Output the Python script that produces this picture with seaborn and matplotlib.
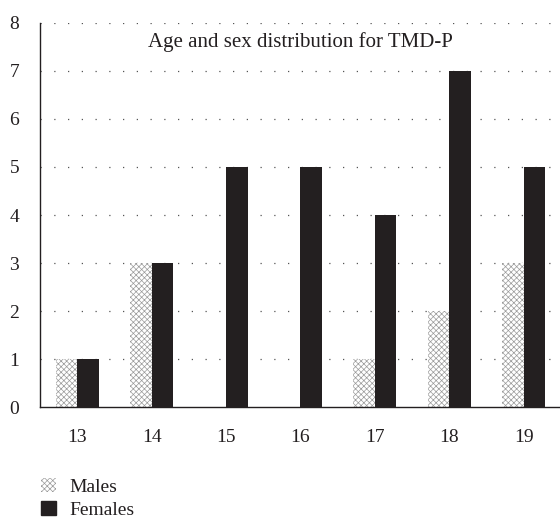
import matplotlib
matplotlib.use("Agg")
import matplotlib.pyplot as plt
import seaborn as sns
import pandas as pd
from matplotlib.patches import Patch

ages = ["13", "14", "15", "16", "17", "18", "19"]
males = [1, 3, 0, 0, 1, 2, 3]
females = [1, 3, 5, 5, 4, 7, 5]
series = ["Males", "Females"]
title = "Age and sex distribution for TMD-P"

sns.set_style("white")
plt.rcParams["font.family"] = ["Liberation Serif", "DejaVu Serif"]
plt.rcParams["hatch.linewidth"] = 0.5

df = pd.DataFrame({
    "age": ages * 2,
    "count": males + females,
    "sex": [series[0]] * len(ages) + [series[1]] * len(ages),
})

fig = plt.figure(figsize=(5.6, 5.2), dpi=100)
ax = fig.add_axes([0.0714, 0.217, 0.93, 0.739])

sns.barplot(data=df, x="age", y="count", hue="sex", hue_order=series,
            palette={"Males": "white", "Females": "#231f20"},
            width=0.58, ax=ax, legend=False, saturation=1, linewidth=0)

n = len(ages)
for i, p in enumerate(ax.patches[:2 * n]):
    if i < n:
        p.set_facecolor("white")
        p.set_hatch("xxxxxx")
        p.set_edgecolor("#9a9a9a")
        p.set_linewidth(0)

ax.set_ylim(0, 8)
ax.set_xlim(-0.5, n - 0.5)
ax.set_yticks(range(0, 9))
ax.set_xlabel("")
ax.set_ylabel("")
for y in range(1, 9):
    ax.axhline(y, color="#555555", linestyle=(0, (1, 10)), linewidth=0.9, zorder=0)

ax.set_xticks([i - 0.5 for i in range(n + 1)], minor=True)
ax.tick_params(axis="x", which="major", length=0, pad=16, labelsize=14, labelcolor="#231f20")
ax.tick_params(axis="x", which="minor", length=6, width=1, direction="out", color="#231f20")
ax.tick_params(axis="y", which="major", length=6, width=1, direction="out", color="#231f20",
               labelsize=14, pad=9, labelcolor="#231f20")

for s in ["top", "right"]:
    ax.spines[s].set_visible(False)
for s in ["left", "bottom"]:
    ax.spines[s].set_color("#231f20")
    ax.spines[s].set_linewidth(1)

ax.text(0.5, 0.95, title, transform=ax.transAxes, ha="center", va="center",
        fontsize=15, color="#231f20")

handles = [Patch(facecolor="white", edgecolor="#9a9a9a", hatch="xxxxxx", linewidth=0),
           Patch(facecolor="#231f20", edgecolor="#231f20")]
fig.legend(handles, series, loc="upper left", bbox_to_anchor=(0.06, 0.096),
           frameon=False, fontsize=14, handlelength=0.75, handleheight=0.75,
           handletextpad=0.7, labelspacing=0.25, borderaxespad=0, labelcolor="#231f20")

fig.savefig("out.png", dpi=100)
